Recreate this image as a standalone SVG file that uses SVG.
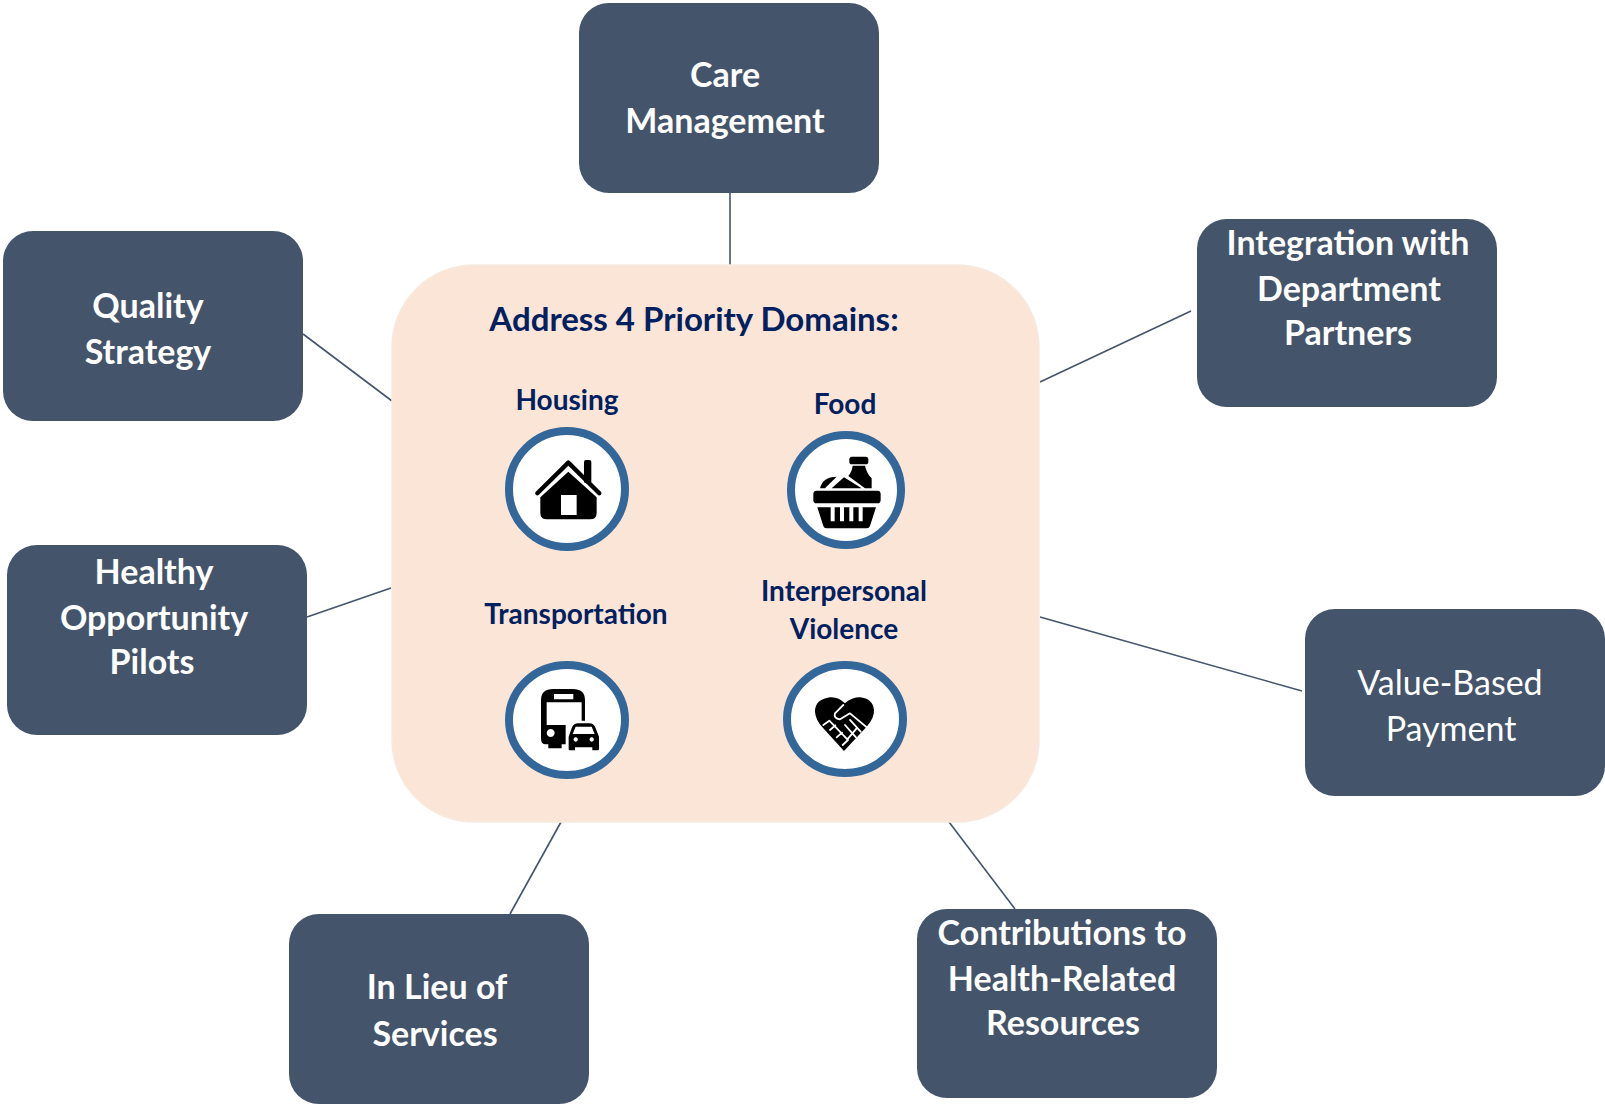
<svg xmlns="http://www.w3.org/2000/svg" width="1605" height="1107" viewBox="0 0 1605 1107">
<style>
.box{fill:#44546A}
.t{font-family:"Lato","Liberation Sans",sans-serif;font-weight:700;font-size:34px;fill:#fff;text-anchor:middle}
.r{font-weight:400}
.h{font-family:"Lato","Liberation Sans",sans-serif;font-weight:700;fill:#002060;text-anchor:middle;font-size:28px}
.c{fill:#fff;stroke:#336699;stroke-width:8}
.ln{stroke:#44546A;stroke-width:1.6;fill:none}
</style>
<rect width="1605" height="1107" fill="#fff"/>
<g id="connectors">
<line class="ln" x1="730" y1="192" x2="730" y2="265"/>
<line class="ln" x1="1191" y1="311" x2="1040" y2="382"/>
<line class="ln" x1="303" y1="334" x2="392" y2="401"/>
<line class="ln" x1="307" y1="617" x2="391" y2="588"/>
<line class="ln" x1="1040" y1="617" x2="1302" y2="691"/>
<line class="ln" x1="561" y1="822" x2="510" y2="914"/>
<line class="ln" x1="949" y1="822" x2="1015" y2="909"/>
</g>
<g id="center">
<rect x="392" y="265" width="647" height="557" rx="82" fill="#FBE5D6" stroke="#F6EAE0" stroke-width="1.5"/>
<text class="h" x="694" y="331" style="font-size:33px">Address 4 Priority Domains:</text>
</g>
<g id="housing">
<text class="h" x="567" y="410">Housing</text>
<circle class="c" cx="567" cy="489" r="58"/>
<g transform="translate(480 410) scale(.3333)">
<path d="M172 250L265 158L358 250" fill="none" stroke="#000" stroke-width="13" stroke-linecap="round" stroke-linejoin="round"/>
<rect x="312" y="150" width="22" height="70" rx="6"/>
<path fill-rule="evenodd" d="M181 262L265 185L350 262V308Q350 328 330 328H201Q181 328 181 308ZM243 255V315H290V255Z"/>
</g>
</g>
<g id="food">
<text class="h" x="845" y="414">Food</text>
<circle class="c" cx="846" cy="490" r="55"/>
<g transform="translate(770 420) scale(.3333)">
<rect x="130" y="212" width="202" height="38" rx="10"/>
<path fill-rule="evenodd" d="M142 262H318L300 318Q298 325 290 325H170Q162 325 160 318ZM182 262V304H194V262ZM210 262V304H222V262ZM238 262V304H250V262ZM266 262V304H278V262Z"/>
<rect x="238" y="110" width="57" height="23" rx="8"/>
<path d="M248 137H285Q290 160 305 175V205H285L235 168Q246 155 248 137Z"/>
<path d="M150 205Q158 170 200 170L165 205Z"/>
<path d="M222 172L185 205H275Z"/>
</g>
</g>
<g id="transportation">
<text class="h" x="576" y="624">Transportation</text>
<ellipse class="c" cx="567" cy="720" rx="58" ry="55"/>
<g transform="translate(490 650) scale(.3333)">
<path fill-rule="evenodd" d="M153 150Q153 117 190 117H248Q285 117 285 150V265Q285 283 270 283H215V295H175V283H165Q153 283 153 265ZM192 132V148H250V132ZM170 157V225H275V157ZM182 237A12 12 0 1 0 182.1 237Z"/>
<path d="M227 212H335V310H227Z" fill="#fff"/>
<path fill-rule="evenodd" d="M245 235Q250 220 265 220H298Q312 220 317 235L327 260V298Q327 301 323 301H307V292H255V301H240Q236 301 236 298V260ZM257 230L248 252H314L305 230ZM257 262A6.500 6.500 0 1 0 257.100 262ZM305 262A6.500 6.500 0 1 0 305.100 262Z"/>
</g>
</g>
<g id="violence">
<text class="h" x="844" y="601">Interpersonal</text>
<text class="h" x="844" y="639">Violence</text>
<ellipse class="c" cx="845" cy="719" rx="58" ry="54"/>
<g transform="translate(770 650) scale(.3333)">
<path d="M225 160Q205 140 180 142Q135 148 135 185Q137 212 160 235L222 303L290 230Q313 205 312 180Q308 145 270 142Q245 142 225 160Z"/>
<path d="M220 165L195 190Q190 205 210 208L240 190L290 232M160 225L178 212L232 268L260 235M180 240L196 226M200 262L216 248M218 285L234 270M240 210L272 245M225 225L258 262" fill="none" stroke="#fff" stroke-width="5.500" stroke-linecap="round" stroke-linejoin="round"/>
</g>
</g>
<g id="care"><rect class="box" x="579" y="3" width="300" height="190" rx="30"/>
<text class="t" x="725" y="87">Care</text><text class="t" x="725" y="133">Management</text></g>
<g id="integration"><rect class="box" x="1197" y="219" width="300" height="188" rx="30"/>
<text class="t" x="1348" y="255">Integration with</text><text class="t" x="1349" y="301">Department</text><text class="t" x="1348" y="345">Partners</text></g>
<g id="quality"><rect class="box" x="3" y="231" width="300" height="190" rx="30"/>
<text class="t" x="148" y="318">Quality</text><text class="t" x="148" y="364">Strategy</text></g>
<g id="healthy"><rect class="box" x="7" y="545" width="300" height="190" rx="30"/>
<text class="t" x="154" y="584">Healthy</text><text class="t" x="154" y="630">Opportunity</text><text class="t" x="152" y="674">Pilots</text></g>
<g id="value"><rect class="box" x="1305" y="609" width="300" height="187" rx="30"/>
<text class="t r" x="1450" y="695">Value-Based</text><text class="t r" x="1451" y="741">Payment</text></g>
<g id="lieu"><rect class="box" x="289" y="914" width="300" height="190" rx="30"/>
<text class="t" x="437" y="999">In Lieu of</text><text class="t" x="435" y="1046">Services</text></g>
<g id="contributions"><rect class="box" x="917" y="909" width="300" height="189" rx="30"/>
<text class="t" x="1062" y="945">Contributions to</text><text class="t" x="1062" y="991">Health-Related</text><text class="t" x="1063" y="1035">Resources</text></g>
</svg>
